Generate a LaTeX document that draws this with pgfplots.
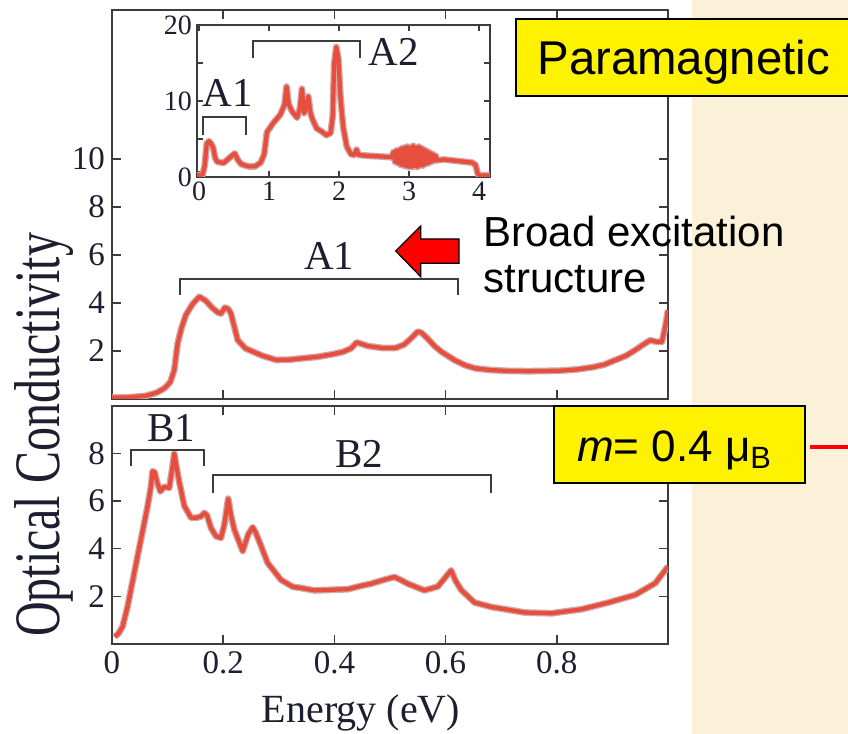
\documentclass[border=0pt]{standalone}
\usepackage{fontspec}
\setmainfont{Liberation Serif}
\newfontfamily\sansfont{Liberation Sans}
\usepackage{graphicx}
\usepackage{pgfplots}
\pgfplotsset{compat=1.18}
\usepackage{pgfplotstable}

\definecolor{curve}{RGB}{232,78,62}
\definecolor{halo}{RGB}{205,170,168}
\definecolor{axisgray}{RGB}{60,60,60}
\definecolor{labelink}{RGB}{30,30,48}
\definecolor{beige}{RGB}{251,240,216}

\newcommand\tickfont{\fontsize{16.5}{19}\selectfont}
\newcommand\insetfont{\fontsize{14}{16}\selectfont}
\newcommand\bracketfont{\fontsize{20.5}{24}\selectfont}

% paramagnetic phase, 0--1 eV
\pgfplotstableread{
x y
0.000 0.05
0.030 0.06
0.060 0.12
0.080 0.25
0.095 0.45
0.105 0.70
0.112 1.20
0.118 2.30
0.125 2.95
0.133 3.50
0.145 3.95
0.157 4.25
0.168 4.10
0.180 3.80
0.190 3.60
0.196 3.55
0.203 3.80
0.209 3.75
0.214 3.55
0.220 3.00
0.226 2.45
0.240 2.10
0.255 1.95
0.270 1.80
0.295 1.62
0.320 1.63
0.340 1.68
0.370 1.75
0.395 1.85
0.415 1.95
0.430 2.10
0.440 2.35
0.447 2.30
0.460 2.20
0.485 2.12
0.510 2.12
0.525 2.25
0.537 2.50
0.550 2.80
0.557 2.75
0.568 2.50
0.580 2.20
0.593 1.95
0.617 1.60
0.635 1.40
0.653 1.27
0.680 1.20
0.713 1.16
0.750 1.15
0.803 1.17
0.835 1.22
0.863 1.31
0.885 1.42
0.905 1.61
0.925 1.80
0.941 2.03
0.955 2.25
0.968 2.44
0.978 2.38
0.989 2.37
0.995 3.00
1.000 3.69
}\paratable

% paramagnetic phase, 0--4 eV
\pgfplotstableread{
x y
-0.03 0.2
0.05 0.3
0.08 1.5
0.11 4.4
0.14 4.7
0.17 4.4
0.20 3.9
0.23 2.5
0.26 2.0
0.35 1.85
0.42 2.4
0.47 2.8
0.51 3.1
0.55 2.3
0.60 1.7
0.70 1.4
0.80 1.4
0.88 1.9
0.93 3.0
0.97 5.9
1.06 7.1
1.16 8.2
1.22 9.5
1.25 11.9
1.28 9.6
1.33 8.6
1.40 7.8
1.44 9.0
1.47 11.6
1.50 8.4
1.53 9.0
1.56 10.6
1.59 8.5
1.62 7.6
1.68 6.4
1.75 6.0
1.82 5.5
1.88 5.8
1.91 8.0
1.93 14.9
1.96 17.1
1.99 15.6
2.02 10.5
2.06 6.5
2.11 4.0
2.17 3.0
2.22 2.9
2.25 3.6
2.28 2.9
2.40 2.8
2.60 2.7
2.75 2.6
2.78 3.3
2.80 2.0
2.82 3.5
2.84 1.8
2.86 3.6
2.88 1.6
2.90 3.8
2.92 1.5
2.94 3.9
2.96 1.4
2.98 4.0
3.00 1.3
3.02 3.9
3.04 1.3
3.06 4.1
3.08 1.4
3.10 3.9
3.12 1.3
3.14 4.0
3.16 1.5
3.18 3.8
3.20 1.5
3.22 3.6
3.24 1.7
3.26 3.4
3.28 1.8
3.30 3.2
3.32 2.0
3.34 3.0
3.36 2.1
3.38 2.8
3.40 2.2
3.50 2.3
3.60 2.2
3.70 2.1
3.80 2.0
3.90 1.9
3.95 1.6
3.98 0.5
4.00 0.2
4.15 0.2
}\insettable

% ordered moment m = 0.4 muB
\pgfplotstableread{
x y
0.005 0.30
0.012 0.45
0.019 0.73
0.028 1.57
0.040 2.98
0.052 4.38
0.064 5.78
0.070 6.60
0.073 7.25
0.077 7.20
0.081 6.80
0.087 6.40
0.094 6.60
0.103 6.55
0.108 7.30
0.112 8.00
0.117 7.30
0.121 6.80
0.130 5.80
0.142 5.30
0.152 5.30
0.160 5.35
0.166 5.50
0.171 5.40
0.178 4.87
0.187 4.52
0.196 4.45
0.202 5.00
0.209 6.10
0.214 5.40
0.220 4.80
0.235 3.90
0.245 4.60
0.253 4.90
0.258 4.70
0.265 4.30
0.280 3.40
0.304 2.69
0.325 2.40
0.340 2.35
0.364 2.25
0.390 2.27
0.424 2.30
0.450 2.45
0.466 2.53
0.490 2.70
0.508 2.81
0.520 2.68
0.532 2.53
0.562 2.25
0.586 2.41
0.598 2.75
0.610 3.09
0.618 2.65
0.628 2.27
0.652 1.74
0.683 1.55
0.743 1.32
0.791 1.29
0.845 1.46
0.893 1.74
0.941 2.06
0.977 2.55
1.000 3.25
}\momenttable

\pgfplotsset{
  panel/.style={
    scale only axis,
    anchor=south west,
    axis line style={axisgray, line width=0.9pt},
    tick style={axisgray, line width=0.8pt},
    major tick length=4.5pt,
    tick align=inside,
    ticklabel style={font=\tickfont, text=labelink},
    /pgf/number format/assume math mode=true,
    axis background/.style={fill=white},
  },
}
\tikzset{
  halo line/.style={halo, line width=3.4pt, line join=round},
  red line/.style={curve, line width=2.1pt, line join=round},
  bracket/.style={axisgray, line width=0.9pt},
}

\begin{document}
\begin{tikzpicture}
\useasboundingbox (0,0) rectangle (424pt,367pt);
\clip (0,0) rectangle (424pt,367pt);
\fill[white] (0,0) rectangle (424pt,367pt);
\fill[beige] (346pt,0) rectangle (424pt,367pt);

% upper panel
\begin{axis}[panel, at={(56pt,167.6pt)}, width=278pt, height=194.4pt,
  xmin=0, xmax=1.0, ymin=0, ymax=16.2,
  xtick={0,0.2,0.4,0.6,0.8}, xticklabels={},
  ytick={2,4,6,8,10}]
\addplot[halo line, no marks] table {\paratable};
\addplot[red line, no marks] table {\paratable};
\draw[bracket] (axis cs:0.123,4.34) -- (axis cs:0.123,5.0) -- (axis cs:0.623,5.0) -- (axis cs:0.623,4.34);
\node[font=\bracketfont, text=labelink] at (axis cs:0.391,5.97) {A1};
\end{axis}

% wide-range inset
\begin{axis}[panel, at={(98.5pt,278.5pt)}, width=146.5pt, height=76pt,
  xmin=-0.03, xmax=4.157, ymin=0, ymax=20,
  major tick length=2.8pt,
  ticklabel style={font=\insetfont},
  xtick={0,1,2,3,4},
  ytick={0,5,10,15,20}, yticklabels={0,,10,,20},
  yticklabel style={xshift=1pt}, xticklabel style={yshift=1pt}]
\addplot[halo line, no marks] table {\insettable};
\addplot[red line, no marks] table {\insettable};
\draw[bracket] (axis cs:0.06,5.5) -- (axis cs:0.06,7.85) -- (axis cs:0.67,7.85) -- (axis cs:0.67,5.5);
\draw[bracket] (axis cs:0.77,15.6) -- (axis cs:0.77,17.9) -- (axis cs:2.3,17.9) -- (axis cs:2.3,15.6);
\node[font=\bracketfont, text=labelink] at (axis cs:0.41,11.0) {A1};
\node[font=\bracketfont, text=labelink] at (axis cs:2.78,16.5) {A2};
\end{axis}

% lower panel
\begin{axis}[panel, at={(56pt,45pt)}, width=278pt, height=119.15pt,
  xmin=0, xmax=1.0, ymin=0, ymax=10,
  xtick={0,0.2,0.4,0.6,0.8},
  xticklabels={0,0.2,0.4,0.6,0.8},
  ytick={2,4,6,8}]
\addplot[halo line, no marks] table {\momenttable};
\addplot[red line, no marks] table {\momenttable};
\draw[bracket] (axis cs:0.034,7.47) -- (axis cs:0.034,8.13) -- (axis cs:0.166,8.13) -- (axis cs:0.166,7.47);
\draw[bracket] (axis cs:0.181,6.35) -- (axis cs:0.181,7.09) -- (axis cs:0.681,7.09) -- (axis cs:0.681,6.35);
\node[font=\bracketfont, text=labelink] at (axis cs:0.106,9.08) {B1};
\node[font=\bracketfont, text=labelink] at (axis cs:0.445,7.96) {B2};
\end{axis}

% axis titles
\node[rotate=90, anchor=base, text=labelink, font=\fontsize{24}{28}\selectfont]
  at (29.5pt,149.5pt) {\scalebox{1}[1.35]{Optical Conductivity}};
\node[anchor=base, text=labelink, font=\fontsize{20}{24}\selectfont]
  at (180.5pt,5.5pt) {Energy (eV)};

% annotations
\draw[black, line width=1pt, fill=yellow] (258pt,357.5pt) rectangle (430pt,319pt);
\node[anchor=base west, inner sep=0pt, font=\sansfont\fontsize{23.7}{28}\selectfont]
  at (268.5pt,329.5pt) {Paramagnetic};

\node[anchor=base west, inner sep=0pt, font=\sansfont\fontsize{21}{25}\selectfont]
  at (241.5pt,243.5pt) {Broad excitation};
\node[anchor=base west, inner sep=0pt, font=\sansfont\fontsize{21}{25}\selectfont]
  at (241.5pt,220.5pt) {structure};

\draw[black, line width=0.6pt, fill=red]
  (197.85pt,241.5pt) -- (210.35pt,254pt) -- (210.35pt,247.5pt) -- (229.5pt,247.5pt)
  -- (229.5pt,235.35pt) -- (210.35pt,235.35pt) -- (210.35pt,228.65pt) -- cycle;

\draw[black, line width=1pt, fill=yellow] (277pt,164pt) rectangle (402.5pt,125.5pt);
\node[anchor=base west, inner sep=0pt, font=\sansfont\fontsize{22}{26}\selectfont]
  at (288.35pt,136.15pt) {\textit{m}= 0.4 μ\textsubscript{B}};
\draw[red, line width=1.8pt] (405pt,143.5pt) -- (426pt,143.5pt);
\end{tikzpicture}
\end{document}
